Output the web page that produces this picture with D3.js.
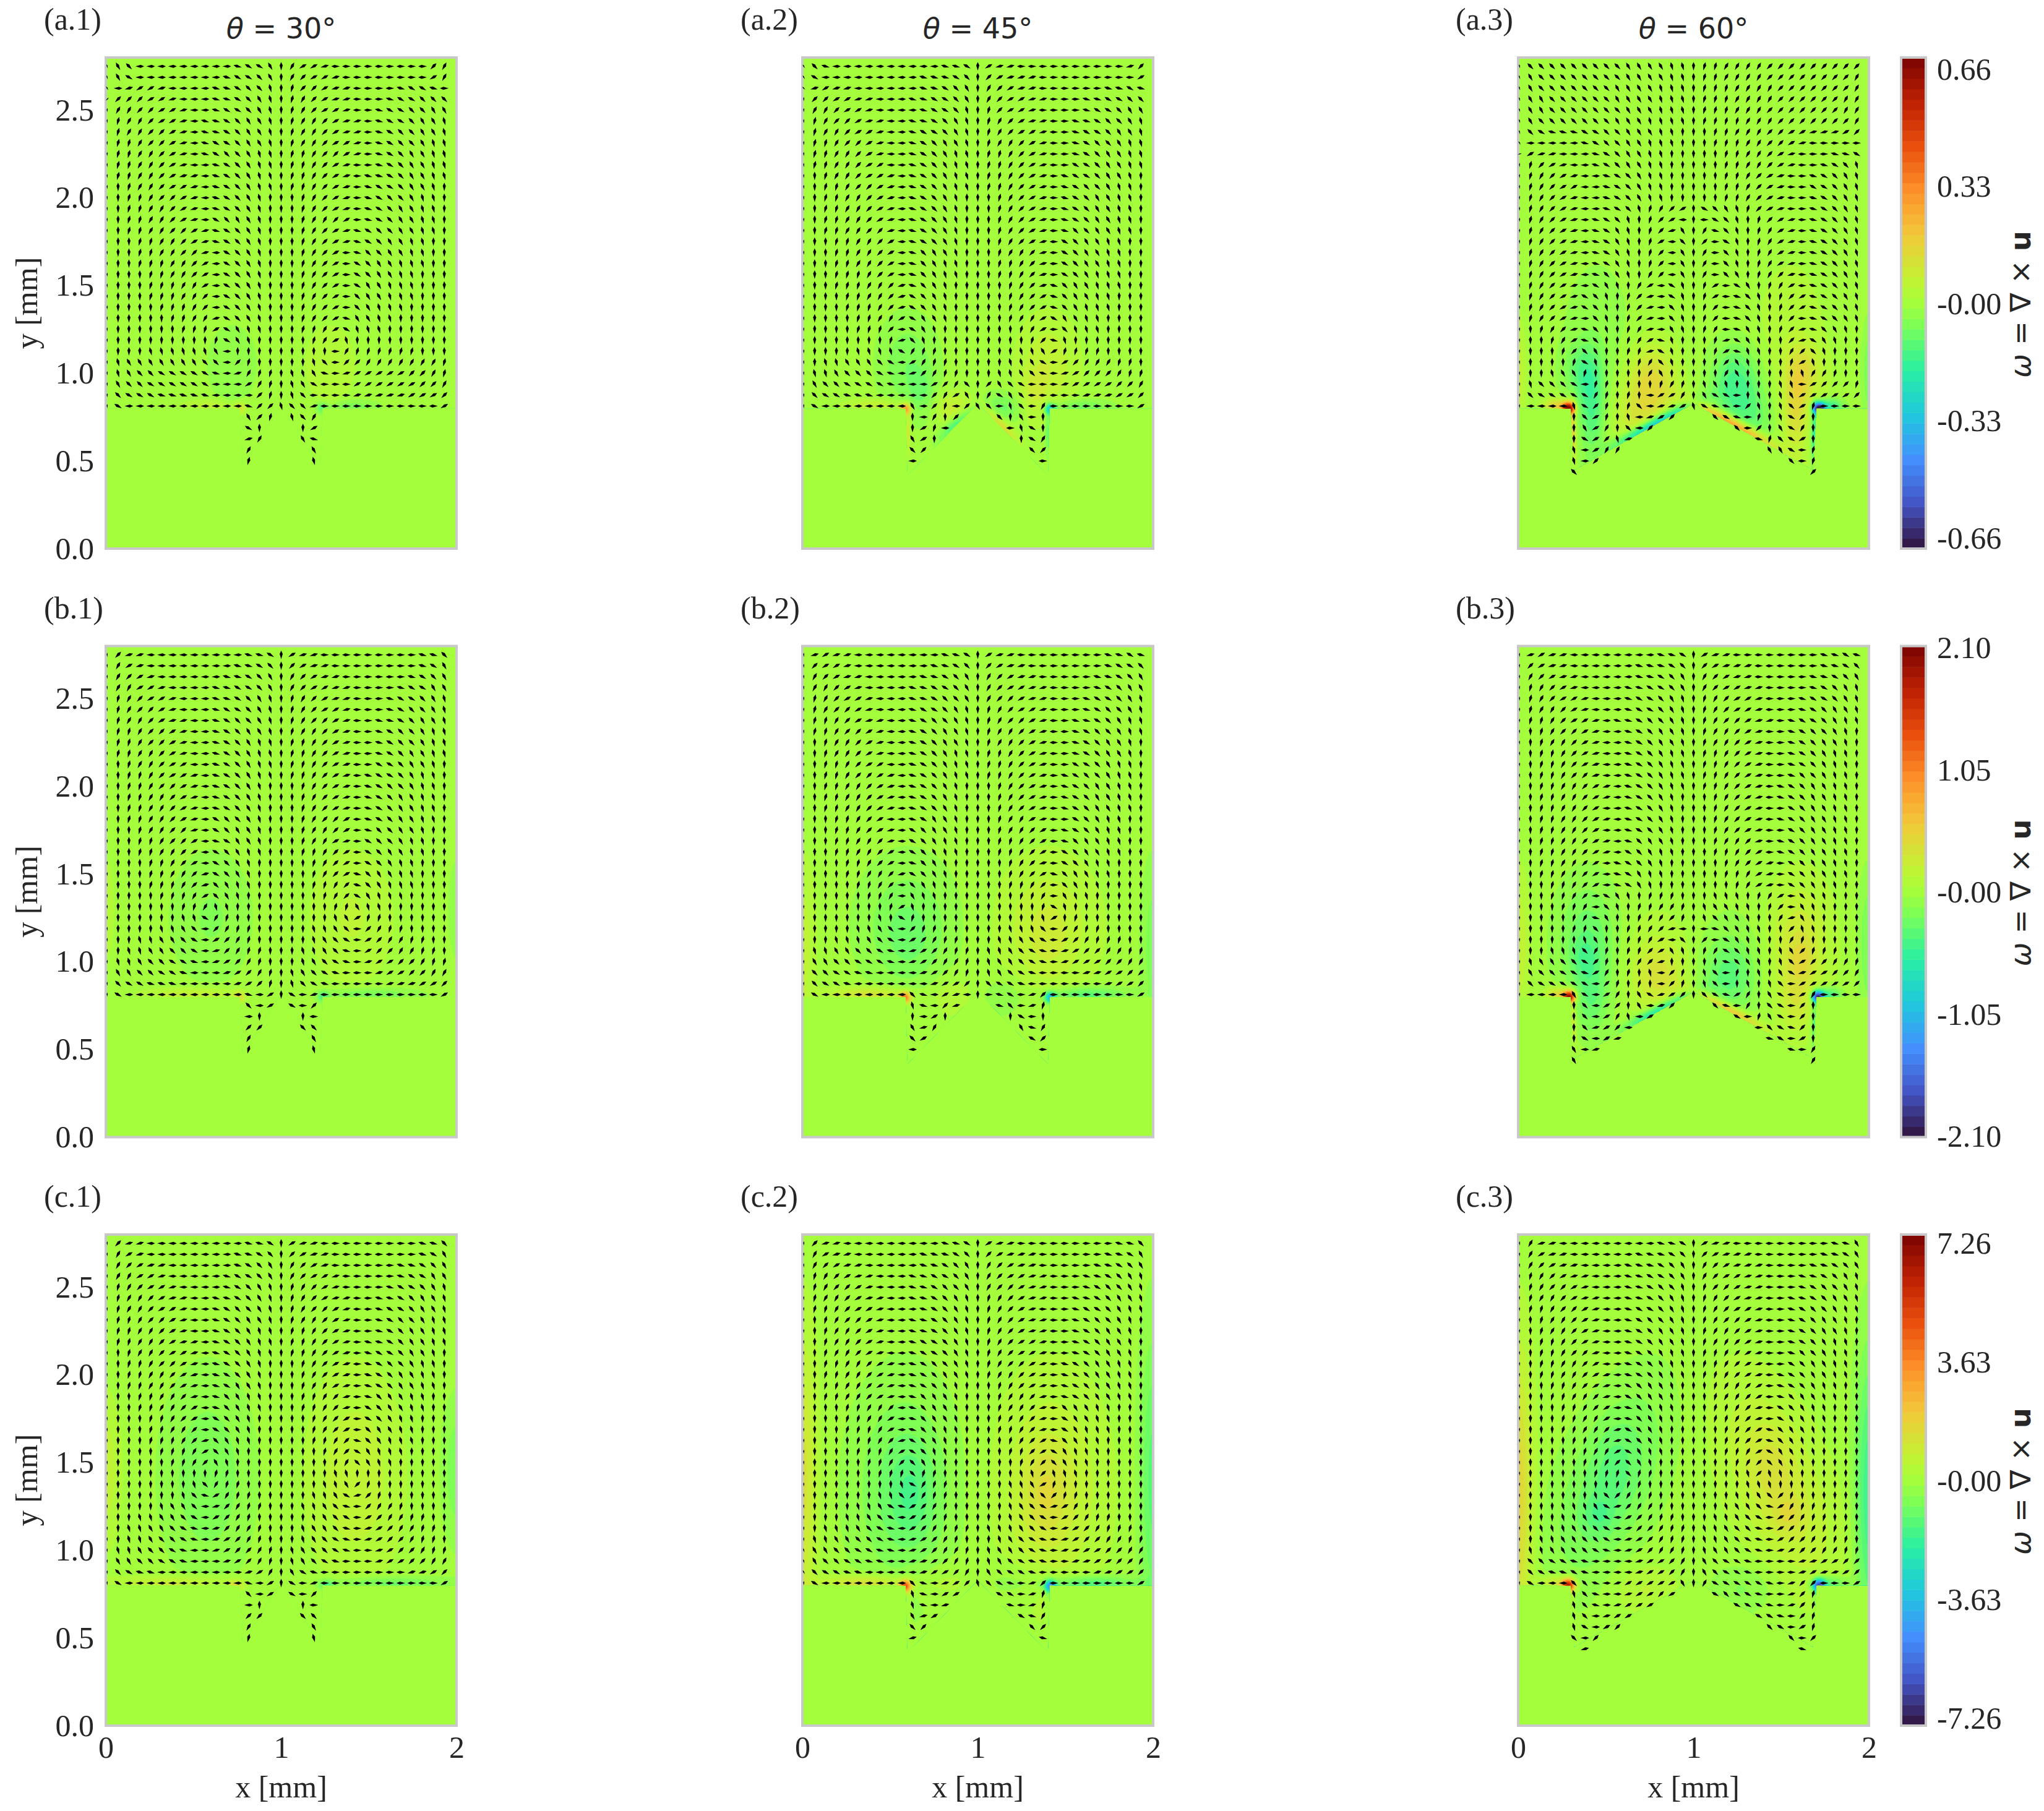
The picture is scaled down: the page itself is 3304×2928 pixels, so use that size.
<!DOCTYPE html>
<html>
<head>
<meta charset="utf-8">
<script src="https://cdn.jsdelivr.net/npm/d3@7"></script>
<style>
    html, body { margin: 0; background: #fff; }
    text { fill: #262626; }
    .serif, .serif text { font-family: "Liberation Serif", serif; font-size: 50px; }
    .sans { font-family: "DejaVu Sans", sans-serif; font-size: 46px; }
</style>
</head>
<body>
<div id="chart"></div>
<script>
// quiver directions, left half of each cell only (x = 0 .. 1 mm), the right half mirrors it.
// letter = direction in 15 degree steps, a = 0, g = 90, l = 165. dot = no arrow
// rows go from y = 2.75 mm downwards in 1/16 mm steps, 17 columns per row
var dirA1 = [
    'hijaaaaaaaaalkkig', 'hikaaaaaaaalkkjig', 'iabccbaaaallkjjhg', 'ddddccbaaallkjihg',
    'geeddccbaalkkjihg', 'gfeedccballkjiihg', 'gfeeddcballkjiihg', 'gffeddcbalkkjiihg',
    'gffeedcbalkjjihhg', 'gffeedcbaalkjihhg', 'gffeedcbbalkjihhg', 'ggfeedccbalkjihhg',
    'ggffeddcbalkjihgg', 'ggffeedcbalkjihgg', 'ggffeedcbakjiihgg', 'ggffeeddcblkjihgg',
    'gggffeedcblkjihgg', 'gggffeeddbakjihgg', 'gggfffeedcakjihgg', 'ggggffeedcakjihgg',
    'ggggfffeecakjihgg', 'ggggfffeedakjihgg', 'gggggfffedakjihgg', 'ggggggffeebkjihgg',
    'gggggggfffckihhgg', 'ggggggggggfkihggg', 'gggghhhhhhiaggggg', 'ghiiiiiiijjadfggg',
    'ghijjkkkkklabeffg', 'gijjkkkkkkaaacefg', 'gjkkklllllaaaadfg', 'gkaaaaaaaaaaalddh',
    '.............idf.', '.............kg..', '.............be..', '.............e...', '.............f...'
];
var dirA2 = [
    'ijlaaaaaaaaaallkg', 'ikaaaaaaaaalllkjg', 'jbcbbaaaaaallkjig', 'gddccbbaaallkkjig',
    'geedccbaaaalkkjhg', 'gfeddcbbaallkjihg', 'gfeedccbaalkkjihg', 'gffeddcbaalkjiihg',
    'gffeedcbaalkjihhg', 'gffeedccaalkjihhg', 'ggfeedccbalkjihhg', 'ggffeddcbalkjihhg',
    'ggffeedcbalkjihgg', 'ggffeedcbalkjihgg', 'ggffeedcbalkjihgg', 'ggffeeddbalkjihgg',
    'gggffeedcalkjihgg', 'gggffeedcaljiihgg', 'gggffeedcaljihhgg', 'gggfffedcaljihhgg',
    'gggfffeedbljihggg', 'ggggffeedbkjihggg', 'ggggfffedbkjihggg', 'gggggffeeckiihggg',
    'gggggfffdakihgggg', 'ggggggggfbjhggggg', 'ggggghhhhkeffgggg', 'gghhiiijkaceffggg',
    'ghhijjjklabdeffgg', 'gijjkkkklaaacdejg', 'gjkklllaaaaadecig', 'gkaaaaaaaaiadfadi',
    '..........gaegd..', '..........gcfa...', '..........icg....', '..........jd.....', '..........a......'
];
var dirA3 = [
    'hjjjjjjjjjiiiihhg', 'hijjjjjjjjiiiihhg', 'hijjjjjjjiiiihhhg', 'hiijjjjjjiiiihhhg',
    'hiijjjjjjjiiihhhg', 'hijjjjjjjiiihhhhg', 'hjklllkkjjiiihhgg', 'iaaaaalkjjiihhhgg',
    'bcbbaaalkjiihhggg', 'gfdcbaalkjiihhggg', 'gfedcbaalkjihhggg', 'gfedccaalkjihhggg',
    'gfedcbaalkjihhggg', 'gfedcbaalkjhfedcg', 'gfedcbalkjhgfdcag', 'gfedcbalkihgfdbig',
    'gfedcbalkihgfcajg', 'gfedcbalkihgfdaig', 'gfedcbalkihgfdaig', 'gfedcbaljihgedaig',
    'gfedcbakihgecakhg', 'gfedcbkjhgfdbakhg', 'gfedcbkjhgfdbajhg', 'gfedcbajhgfdbajhg',
    'ggfedbljhgfebaihg', 'gggfecljggfeclhgg', 'ggggfdjiggffbkhgg', 'gggggfkhgggfejhgg',
    'ggghiifgggggeiggg', 'ghjjjkaffggggfefg', 'gjkkkkkefgfgacceg', 'gaaaahkdfgfjabbch',
    '.....gjcfghabcd..', '.....gicegjad....', '.....gkcdhb......', '.....hacee.......', '.....had.........', '.....j...........'
];
var dirB1 = [
    'gdbbaaaaaaaaallkg', 'gecbaaaaaaaallkjg', 'gedcbaaaaaallkjig', 'geeccbaaaallkkjig',
    'gfedccbaaallkjihg', 'gfeddcbaaalkkjihg', 'gfeedcbbaalkjjihg', 'gffeddcbaalkjiihg',
    'gffeddcbaalkjihhg', 'gffeedcbaalkjihhg', 'ggfeedccaalkjihhg', 'ggffedccbalkjihhg',
    'ggffeddcbalkjihgg', 'ggffeedcbalkjihgg', 'ggffeedcbalkjihgg', 'ggffeedcbakjjihgg',
    'gggfeeddbakjiihgg', 'gggffeddcalkiihgg', 'gggffeedcakjihhgg', 'ggggffedcakjihggg',
    'ggggffeedbkjihggg', 'ggggfffedbjihhggg', 'gggggfffecjihgggg', 'gggggggffehhggggg',
    'ggggggghhkefggggg', 'ggggghhijadeffggg', 'ggghhiijkacdefggg', 'gghhiijjkabdeffgg',
    'ghhijjkklabcdefgg', 'giijjkklaaabcdefg', 'gjkklllaaaaabcdfg', 'gkaaaaaaaaaaalacg',
    '.............jac.', '.............ag..', '.............dd..', '.............e...', '.............f...'
];
var dirB2 = [
    'gbcbbaaaaaaaallkg', 'gdccbaaaaaaallkjg', 'gedcbbaaaaallkjig', 'geedcbaaaallkkjig',
    'gfedccbaaallkjjig', 'gfeddcbaaalkkjihg', 'gffedcbbaalkjjihg', 'gffeddcbaalkjiihg',
    'ggfeedcbaalkjiihg', 'ggfeedcbaalkjihhg', 'ggffedccaalkjihhg', 'ggffeddcbalkjihhg',
    'ggffeedcbalkjihgg', 'ggffeedcbalkjihgg', 'ggffeedcbalkjihgg', 'gggffedcaalkiihgg',
    'gggffedcbakjiihgg', 'gggffeedbakjihhgg', 'gggffeedcakjihhgg', 'ggggffedcaljihggg',
    'ggggffeedbkjihggg', 'gggggffedajihhggg', 'ggggggffeaihhgggg', 'ggggggggfchgggggg',
    'ggggggghgkfgggggg', 'ggggghhijadfffggg', 'ggghhhijkacdeffgg', 'ghhiijjklabcdeffg',
    'giijjkkklabcdeefg', 'gjjkkllaaaabcdefg', 'gjkklaaaaaaabccdg', 'gkaaaaaaaajlacbag',
    '..........hladb..', '..........gacg...', '..........ibe....', '..........jc.....', '..........a......'
];
var dirB3 = [
    'gbcbbaaaaaaaallkg', 'gdcbbaaaaaalllkjg', 'gedcbbaaaaallkjig', 'gfedcbaaaallkkjig',
    'gfedccbaaalkkjihg', 'gfeedcbaaalkkjihg', 'gffedccballkjjihg', 'ggfeddcbaalkjiihg',
    'ggfeedcbaalkjiihg', 'ggffedcbaalkjihhg', 'ggffedcbaalkjihhg', 'ggffeddbaalkjihhg',
    'ggffeedcbalkjihhg', 'ggffeedcbalkjihgg', 'ggffeedcaalkjihgg', 'ggffeedcbalkjihgg',
    'ggffeedcaalkjihgg', 'ggffeedcbaljiihgg', 'ggffeedcbakjihhgg', 'ggffeedcalkjihggg',
    'ggffeedcalkihhggg', 'gggffedcalkihgggg', 'gggffedakihgfffgg', 'ggggffeajhgffeefg',
    'gggggfeliggfeedfg', 'gggggffjggffedbag', 'gggggghiggffecajg', 'ggghhhjefgffdcihg',
    'ghiijjkdfgfedbggg', 'gijjkklcegfghadfg', 'gjkkkkkadfgfgadfg', 'gaaaaikacegikbcdg',
    '.....gjacdgiabd..', '.....gjacehac....', '.....gjbcda......', '.....gkacb.......', '.....iab.........', '.....i...........'
];
var dirC1 = [
    'gdbbaaaaaaaaallkg', 'gecbaaaaaaaallkjg', 'gedcbbaaaaaalkjig', 'geeccbaaaaalkkjig',
    'gfedccbaaaalkjihg', 'gfeedcbbaallkjihg', 'gfeedccbaalkjjihg', 'gffeddcbaalkjiihg',
    'gffeedcbaalkjihhg', 'gffeedcbbalkjihhg', 'ggfeedccbalkjihhg', 'ggffeddcbalkjihgg',
    'ggffeedcbalkjihgg', 'ggffeedcbalkiihgg', 'gggffeedbaljihhgg', 'gggffeedcaljihhgg',
    'ggggffedcakjihggg', 'ggggffeedakjihggg', 'ggggfffedbjihhggg', 'gggggfffecjihgggg',
    'ggggggffedihggggg', 'ggggggggggffggggg', 'gggggggghjeffgggg', 'ggggggghjlceffggg',
    'ggggghiijabdeffgg', 'ggghhiijkacdefggg', 'gghhiijklabdeefgg', 'gghhijjklabcdefgg',
    'ghhijjklaabcddefg', 'giijjkklaaabcdefg', 'gjkllaaaaaaaabceg', 'gkaaaaaaaaaaalacg',
    '.............jac.', '.............ag..', '.............dd..', '.............e...', '.............f...'
];
var dirC2 = [
    'gdbbaaaaaaaaallkg', 'gecbbaaaaaalllkjg', 'gedcbbaaaaallkjig', 'gfedcbbaaallkkjig',
    'gfeddcbaaallkjjig', 'gfeedcbbaallkjihg', 'gffedccbaaalkjihg', 'ggfeddcbaallkjihg',
    'ggfeedcbaallkjihg', 'ggfeedcbaalkkjihg', 'ggfeedcbaalkkjihg', 'ggffeedcbalkjjihg',
    'ggffeedcbalkjiihg', 'ggffeedcbalkjihgg', 'ggffeedcbaljiihgg', 'ggggffeedaljiihgg',
    'ggggffeecaljiihgg', 'ggggfffecaljihhgg', 'gggggffedbkjihggg', 'gggggfffeckjhhggg',
    'ggggggffedjihgggg', 'gggggggfffjffgggg', 'ggggggggghkeffggg', 'ggggggghhjdeffggg',
    'ggggghhiklcdefggg', 'gggghhijkacdefggg', 'gghhhijklacdefffg', 'ghhiijjklabcdefgg',
    'hiijjkkllabcdeefg', 'hijjkkllaabbcdefg', 'ijkkllaaaaabccdeg', 'gkaaaaaaaajlabcdh',
    '..........hlacc..', '..........hlab...', '..........ibc....', '..........jd.....', '..........b......'
];
var dirC3 = [
    'gebbaaaaaaaaallkg', 'gecbbaaaaaalllkjg', 'gedcbbaaaalllkjig', 'gfedcbbaaallkkjig',
    'gfeddcbaaallkjjhg', 'gfeedcbbaallkjihg', 'gffeddcbaalkkjihg', 'ggfeedcbaalkjjihg',
    'ggfeedcbaalkjiihg', 'ggffedcbaalkjiihg', 'ggffeddbaalkjihhg', 'ggffeedcaalkjihhg',
    'ggffeedcbalkjihhg', 'gggffedcbakjiihgg', 'gggffeedbakjiihgg', 'ggggffedcaljihhgg',
    'ggggffeecaljihhgg', 'ggggffeedbkjihggg', 'gggggffedbkjihggg', 'gggggffeeckihhggg',
    'ggggggffedjihgggg', 'gggggggfffjffgggg', 'gggggggggfffggggg', 'ggggggghjdeffgggg',
    'gggghhhikbdeefggg', 'gggghhijkacdeffgg', 'gghhhiijkabddeffg', 'gghhiijjkabcdeffg',
    'ghhiijjklabcdeefg', 'gjjkkllaaaabccdeg', 'gjkllklaaaabccdeg', 'gkaaajjlabcccccig',
    '.....hjlaabccdc..', '.....hjlabccc....', '.....hjabcc......', '.....hkacd.......', '.....jad.........', '......b..........'
];

// vorticity patches, left half, right half is the same with opposite sign
// x, y, long radius, short radius (mm), tilt in degrees, level as a fraction of the colour bar
var patchA1 = [[.72, 1.05, .14, .22, 0, -.06], [.72, .85, .06, .1, 0, -.03], [.62, .81, .16, .04, 0, .1], [.765, .8, .03, .035, 0, .15]];
var patchA2 = [[.6, 1.05, .16, .26, 0, -.1], [.68, .88, .08, .14, 0, -.08], [.86, .8, .11, .09, 0, .12], [.42, .81, .17, .04, 0, .12], [.585, .795, .03, .03, 0, .42], [.6, .68, .018, .13, 0, .14], [.88, .71, .12, .04, 45, -.22]];
var patchA3 = [[.45, 1.2, .2, .45, 0, -.05], [.37, 1.0, .1, .16, 0, -.15], [.42, .78, .07, .25, 0, -.17], [.76, .93, .14, .22, 0, .22], [.65, .72, .12, .18, 0, .1], [.285, .8, .032, .032, 0, 1], [.31, .65, .018, .16, 0, .3], [.22, .81, .07, .045, 0, .25], [.77, .7, .23, .04, 28, -.5], [0, 1, .04, .28, 0, .1]];
var patchB1 = [[.6, 1.25, .22, .36, 0, -.07], [0, 1.3, .06, .35, 0, .04], [.5, .81, .26, .04, 0, .12], [.76, .8, .03, .03, 0, .2]];
var patchB2 = [[.6, 1.2, .26, .36, 0, -.11], [.6, 1.1, .12, .17, 0, -.03], [0, 1.1, .07, .45, 0, .09], [.85, .8, .12, .12, 0, .06], [.38, .81, .22, .045, 0, .18], [.585, .795, .03, .03, 0, .5]];
var patchB3 = [[.4, 1.1, .17, .34, 0, -.15], [.38, 1.02, .07, .11, 0, -.07], [.8, .92, .15, .2, 0, .15], [.8, 1.05, .28, .38, 0, .03], [0, 1.1, .06, .38, 0, .11], [.29, .8, .032, .032, 0, .9], [.31, .65, .018, .14, 0, .2], [.23, .81, .07, .045, 0, .22], [.8, .72, .2, .035, 28, -.33], [.42, .78, .09, .2, 0, -.1]];
var patchC1 = [[.58, 1.42, .24, .55, 0, -.1], [0, 1.45, .08, .38, 0, .1], [.4, .81, .34, .04, 0, .13], [.74, .8, .04, .03, 0, .18]];
var patchC2 = [[.58, 1.35, .28, .58, 0, -.13], [.62, 1.32, .12, .24, 0, -.08], [0, 1.4, .08, .8, 0, .17], [.36, .81, .24, .045, 0, .2], [.585, .795, .032, .032, 0, .6], [.8, .82, .2, .12, 0, .05], [.6, .7, .018, .15, 0, .05]];
var patchC3 = [[.52, 1.38, .58, .25, 68, -.14], [.55, 1.48, .24, .12, 90, -.04], [.46, 1.2, .08, .1, 0, -.08], [0, 1.3, .08, .8, 0, .23], [.285, .8, .034, .034, 0, .8], [.22, .81, .09, .045, 0, .18], [.72, .78, .18, .14, 0, .07], [.3, .72, .018, .08, 0, .08]];

// wall of the left half of the cell for each angle, mm
var wall30 = [[0, .8], [.765, .8], [.78, .47], [1, .82]];
var wall45 = [[0, .8], [.59, .8], [.6, .42], [1, .83]];
var wall60 = [[0, .8], [.3, .8], [.32, .45], [1, .83]];

// colour bar stops, evenly spaced except for the middle one
var turboPos = [0, 1 / 11, 2 / 11, 3 / 11, 4 / 11, 5 / 11, 0.5, 6 / 11, 7 / 11, 8 / 11, 9 / 11, 10 / 11, 1];
var turboCol = ['#30123b', '#4454c4', '#4490fe', '#1fc8de', '#29efa2', '#7dff56', '#a4fe3c', '#c1f334', '#f1ca3a', '#fe922a', '#ea4f0d', '#be2102', '#7a0403'];

var thetas = ['30', '45', '60'];
var panelLabels = [['(a.1)', '(a.2)', '(a.3)'], ['(b.1)', '(b.2)', '(b.3)'], ['(c.1)', '(c.2)', '(c.3)']];
var barLabels = [
    ['0.66', '0.33', '-0.00', '-0.33', '-0.66'],
    ['2.10', '1.05', '-0.00', '-1.05', '-2.10'],
    ['7.26', '3.63', '-0.00', '-3.63', '-7.26']
];
var yTicks = [0, 0.5, 1, 1.5, 2, 2.5];
var xTicks = [0, 1, 2];

var dirs = [[dirA1, dirA2, dirA3], [dirB1, dirB2, dirB3], [dirC1, dirC2, dirC3]];
var patches = [[patchA1, patchA2, patchA3], [patchB1, patchB2, patchB3], [patchC1, patchC2, patchC3]];
var walls = [wall30, wall45, wall60];

var colLeft = [171, 1297, 2454];
var panelW = 567;
var rowTop = [93, 1044.5, 1996];
var panelH = 794;
var barInset = [[19, 17], [3, 1], [14, 12]];
var frameColor = '#c8c8c8';
var bands = 47;
var turbo = d3.scaleLinear().domain(turboPos).range(turboCol);
var bandColor = d3.range(bands).map(function (i) { return turbo((i + 0.5) / bands) });
var edges = d3.range(1, bands).map(function (i) { return -1 + 2 * i / bands });
var cell = 2;

var svg = d3.select('#chart').append('svg')
    .attr('width', 3304)
    .attr('height', 2928);

function fieldOf(list, x, y) {
    var nx = Math.ceil(panelW / cell), ny = Math.ceil(panelH / cell);
    var values = new Float64Array(nx * ny);
    list.forEach(function (p) {
        var a = p[4] * Math.PI / 180, c = Math.cos(a), s = Math.sin(a);
        [1, -1].forEach(function (side) {
            for (var j = 0; j < ny; j++) {
                var yy = y.invert(y.range()[1] + (j + .5) * cell);
                for (var i = 0; i < nx; i++) {
                    var xx = x.invert(x.range()[0] + (i + .5) * cell);
                    var dx = (side > 0 ? xx : 2 - xx) - p[0], dy = yy - p[1];
                    var u = (dx * c + dy * s) / p[2], v = (dy * c - dx * s) / p[3];
                    var e = u * u + v * v;
                    if (e < 16) values[i + j * nx] += side * p[5] * Math.exp(-e);
                }
            }
        });
    });
    return { nx: nx, ny: ny, values: values };
}

function drawPanel(r, c) {
    var left = colLeft[c], top = rowTop[r];
    var x = d3.scaleLinear().domain([0, 2]).range([left, left + panelW]);
    var y = d3.scaleLinear().domain([0, 2.8]).range([top + panelH, top]);
    var g = svg.append('g');

    // background and colour field, clipped to the fluid area
    g.append('rect')
        .attr('x', left).attr('y', top)
        .attr('width', panelW).attr('height', panelH)
        .style('fill', bandColor[(bands - 1) / 2]);

    var wall = walls[c];
    var outline = [[0, 2.8], [2, 2.8]]
        .concat(wall.map(function (d) { return [2 - d[0], d[1]] }))
        .concat(wall.slice(0, -1).reverse());
    var clipId = 'clip' + r + c;
    g.append('clipPath').attr('id', clipId).append('path')
        .attr('d', d3.line().x(function (d) { return x(d[0]) }).y(function (d) { return y(d[1]) })(outline) + 'Z');

    var f = fieldOf(patches[r][c], x, y);
    var low = d3.min(f.values), high = d3.max(f.values);
    var used = edges.filter(function (t) { return t > low && t < high });
    var base = d3.bisect(edges, low);
    var shapes = d3.contours().size([f.nx, f.ny]).thresholds(used)(f.values);
    var heat = g.append('g').attr('clip-path', 'url(#' + clipId + ')')
        .append('g').attr('transform', 'translate(' + left + ',' + top + ')');
    heat.append('rect')
        .attr('width', panelW).attr('height', panelH)
        .style('fill', bandColor[base]);
    heat.selectAll('path')
        .data(shapes)
        .enter()
        .append('path')
        .attr('d', d3.geoPath(d3.geoIdentity().scale(cell)))
        .style('fill', function (d) { return bandColor[d3.bisect(edges, d.value)] });

    g.append('rect')
        .attr('x', left).attr('y', top)
        .attr('width', panelW).attr('height', panelH)
        .style('fill', 'none')
        .style('stroke', frameColor)
        .style('stroke-width', 4);

    // quiver
    var arrows = [];
    dirs[r][c].forEach(function (row, k) {
        row.split('').forEach(function (ch, j) {
            var idx = 'abcdefghijkl'.indexOf(ch);
            if (idx < 0) return;
            var xv = 0.008 + j * 0.992 / 16, yv = 2.75 - k * 0.0625, ang = idx * 15;
            arrows.push({ x: xv, y: yv, a: ang, wall: j === 0 });
            if (j > 0 && j < 16) arrows.push({ x: 2 - xv, y: yv, a: 180 - ang, wall: false });
        });
    });
    g.append('g').selectAll('path')
        .data(arrows)
        .enter()
        .append('path')
        .attr('d', 'M-7,0L1.5,-2.5L7,0L1.5,2.5Z')
        .attr('transform', function (d) {
            return 'translate(' + x(d.x) + ',' + y(d.y) + ') rotate(' + (-d.a) + ')' + (d.wall ? ' scale(.5,.35)' : '');
        })
        .style('fill', '#000');

    // axes only on the outer panels
    if (c === 0) {
        var ay = g.append('g').attr('class', 'serif')
            .attr('transform', 'translate(' + left + ',0)')
            .call(d3.axisLeft(y).tickValues(yTicks).tickSize(0).tickPadding(19).tickFormat(d3.format('.1f')));
        ay.select('.domain').remove();
        g.append('text').attr('class', 'serif')
            .attr('transform', 'translate(60,' + (top + panelH / 2) + ') rotate(-90)')
            .attr('text-anchor', 'middle')
            .text('y [mm]');
    }
    if (r === 2) {
        var ax = g.append('g').attr('class', 'serif')
            .attr('transform', 'translate(0,' + (top + panelH) + ')')
            .call(d3.axisBottom(x).tickValues(xTicks).tickSize(0).tickPadding(16).tickFormat(d3.format('d')));
        ax.select('.domain').remove();
        g.append('text').attr('class', 'serif')
            .attr('x', left + panelW / 2).attr('y', 2906)
            .attr('text-anchor', 'middle')
            .text('x [mm]');
    }

    // panel letter, and the angle on the top row
    var letterX = [71, 1197, 2353];
    g.append('text').attr('class', 'serif')
        .attr('x', letterX[c]).attr('y', top - 45)
        .text(panelLabels[r][c]);
    if (r === 0) {
        var t = g.append('text').attr('class', 'sans')
            .attr('x', left + panelW / 2).attr('y', 62)
            .attr('text-anchor', 'middle');
        t.append('tspan').style('font-style', 'italic').text('θ');
        t.append('tspan').text(' = ' + thetas[c] + '°');
    }
}

function drawBar(r) {
    var top = rowTop[r], barX = 3073, barW = 40;
    var band = d3.scaleBand().domain(d3.range(bands)).range([top + panelH, top]);
    var g = svg.append('g');
    g.selectAll('rect')
        .data(d3.range(bands))
        .enter()
        .append('rect')
        .attr('x', barX).attr('width', barW)
        .attr('y', function (d) { return band(d) })
        .attr('height', band.bandwidth() + 0.5)
        .style('fill', function (d) { return bandColor[d] });
    g.append('rect')
        .attr('x', barX).attr('y', top)
        .attr('width', barW).attr('height', panelH)
        .style('fill', 'none')
        .style('stroke', frameColor)
        .style('stroke-width', 4);

    var tick = d3.scalePoint().domain(barLabels[r]).range([top + barInset[r][0], top + panelH - barInset[r][1]]);
    var a = g.append('g').attr('class', 'serif')
        .attr('transform', 'translate(' + (barX + barW) + ',0)')
        .call(d3.axisRight(tick).tickSize(0).tickPadding(18));
    a.select('.domain').remove();

    var label = g.append('text').attr('class', 'sans')
        .attr('transform', 'translate(3282,' + (top + panelH / 2 + 2) + ') rotate(-90)')
        .attr('text-anchor', 'middle');
    label.append('tspan').style('font-style', 'italic').text('ω');
    label.append('tspan').text(' = ∇ × ');
    label.append('tspan').style('font-weight', 'bold').text('u');
}

d3.range(3).forEach(function (r) {
    d3.range(3).forEach(function (c) {
        drawPanel(r, c);
    });
    drawBar(r);
});
</script>
</body>
</html>
